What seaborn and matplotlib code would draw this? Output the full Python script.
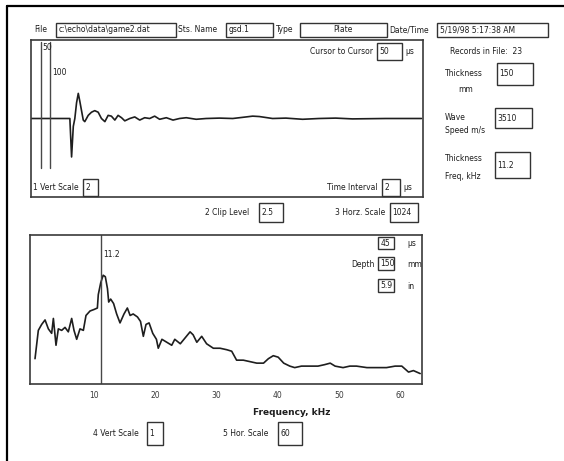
import matplotlib
matplotlib.use("Agg")
import matplotlib.pyplot as plt
from matplotlib.patches import Rectangle
import pandas as pd
import seaborn as sns

# --- time-domain waveform (µs, relative amplitude) ---
time_us = [0, 203, 212, 221, 229, 238, 247, 255, 264, 273, 281, 299, 316, 333,
           351, 368, 386, 403, 420, 438, 455, 473, 490, 516, 542, 568, 594, 620,
           646, 672, 707, 742, 776, 811, 863, 915, 984, 1054, 1124, 1158, 1193,
           1262, 1332, 1419, 1505, 1592, 1679, 1853, 2040]
signal = [0, 0, -0.49, -0.10, 0.0, 0.20, 0.32, 0.22, 0.10, -0.02, -0.04, 0.04,
          0.08, 0.10, 0.08, 0.0, -0.04, 0.04, 0.03, -0.02, 0.04, 0.01, -0.03,
          0.0, 0.02, -0.02, 0.01, 0.0, 0.03, -0.01, 0.01, -0.02, 0.0, 0.01,
          -0.01, 0.0, 0.005, 0.0, 0.02, 0.03, 0.025, 0.0, 0.005, -0.01, 0.0,
          0.005, -0.005, 0.0, 0.0]
cursors_us = [50, 100]
cursor_labels = ["50", "100"]

# --- amplitude spectrum (kHz, relative amplitude) ---
freq_khz = [0.36, 0.9, 1.45, 2.0, 2.54, 3.08, 3.36, 3.79, 4.17, 4.72, 5.26, 5.8,
            6.35, 6.73, 7.17, 7.71, 8.26, 8.69, 9.35, 10.0, 10.55, 10.7, 11.1,
            11.5, 11.85, 12.2, 12.4, 12.72, 13.2, 13.7, 14.25, 14.9, 15.45,
            15.9, 16.4, 17.1, 17.6, 18.06, 18.5, 19.0, 19.6, 20.2, 20.5, 21.1,
            21.9, 22.7, 23.2, 24.1, 24.9, 25.7, 26.2, 26.8, 27.6, 28.4, 29.5,
            30.6, 31.7, 32.5, 33.3, 34.4, 35.5, 36.6, 37.7, 38.5, 39.3, 40.1,
            41.0, 42.0, 42.8, 43.9, 45.3, 46.6, 47.7, 48.6, 49.4, 50.7, 51.8,
            52.9, 54.6, 56.2, 57.8, 59.2, 60.3, 61.4, 62.2, 63.3]
spectrum = [0.17, 0.36, 0.40, 0.43, 0.37, 0.34, 0.44, 0.26, 0.37, 0.36, 0.38,
            0.35, 0.44, 0.36, 0.30, 0.37, 0.36, 0.46, 0.49, 0.50, 0.51, 0.60,
            0.68, 0.73, 0.72, 0.64, 0.55, 0.57, 0.54, 0.47, 0.41, 0.47, 0.51,
            0.46, 0.47, 0.45, 0.42, 0.32, 0.40, 0.41, 0.34, 0.30, 0.24, 0.30,
            0.28, 0.26, 0.30, 0.27, 0.31, 0.35, 0.33, 0.28, 0.32, 0.27, 0.24,
            0.24, 0.23, 0.22, 0.16, 0.16, 0.15, 0.14, 0.14, 0.17, 0.19, 0.18,
            0.14, 0.12, 0.11, 0.12, 0.12, 0.12, 0.13, 0.14, 0.12, 0.11, 0.12,
            0.12, 0.11, 0.11, 0.11, 0.12, 0.12, 0.08, 0.09, 0.07]
freq_ticks = [10, 20, 30, 40, 50, 60]
peak_khz = 11.2

sns.set_style("white")
plt.rcParams["font.family"] = ["Liberation Sans Narrow", "DejaVu Sans"]

W, H = 564, 461
INK = "#1e1e1e"
fig = plt.figure(figsize=(W / 100, H / 100), dpi=100)


def rect(l, t, r, b):
    return [l / W, 1 - b / H, (r - l) / W, (b - t) / H]


def style_axes(ax):
    for s in ax.spines.values():
        s.set_color("#3a3a3a")
        s.set_linewidth(1.2)


# waveform panel
ax_t = fig.add_axes(rect(31, 40, 423, 197))
wave = pd.DataFrame({"t": time_us, "a": signal})
sns.lineplot(data=wave, x="t", y="a", ax=ax_t, color=INK, lw=1.2)
ax_t.set_xlim(0, 2048)
ax_t.set_ylim(-1, 1)
ax_t.set_xticks([])
ax_t.set_yticks([])
ax_t.set_xlabel("")
ax_t.set_ylabel("")
style_axes(ax_t)
for c in cursors_us:
    ax_t.axvline(c, ymin=0.185, ymax=0.99, color="#484848", lw=1.0)
ax_t.annotate(cursor_labels[0], (cursors_us[0], 0.955), xycoords=("data", "axes fraction"),
              xytext=(1.5, 0), textcoords="offset points", fontsize=5.5,
              color=INK, va="center", ha="left")
ax_t.annotate(cursor_labels[1], (cursors_us[1], 0.79), xycoords=("data", "axes fraction"),
              xytext=(1.5, 0), textcoords="offset points", fontsize=5.5,
              color=INK, va="center", ha="left")

# spectrum panel
ax_f = fig.add_axes(rect(30, 235, 422, 384))
spec = pd.DataFrame({"f": freq_khz, "a": spectrum})
sns.lineplot(data=spec, x="f", y="a", ax=ax_f, color=INK, lw=1.2)
ax_f.set_xlim(-0.46, 63.6)
ax_f.set_ylim(0, 1)
ax_f.set_xticks(freq_ticks)
ax_f.set_xticklabels([str(v) for v in freq_ticks], fontsize=5.5, color=INK)
ax_f.set_yticks([])
ax_f.tick_params(axis="x", direction="in", length=5, width=0.9, pad=5, colors="#3a3a3a")
ax_f.set_xlabel("")
ax_f.set_ylabel("")
style_axes(ax_f)
ax_f.axvline(peak_khz, color="#484848", lw=1.0)
ax_f.annotate(f"{peak_khz:.1f}", (peak_khz, 0.866), xycoords=("data", "axes fraction"),
              xytext=(1.5, 0), textcoords="offset points", fontsize=5.5,
              color=INK, va="center", ha="left")

# form controls drawn in pixel coordinates
ov = fig.add_axes([0, 0, 1, 1], zorder=5)
ov.set_xlim(0, W)
ov.set_ylim(H, 0)
ov.axis("off")
ov.patch.set_alpha(0)

ov.plot([7, 7], [6, H], color="black", lw=1.6)
ov.plot([7, W], [6, 6], color="black", lw=1.6)


def label(x, y, s, ha="left", size=5.5, **kw):
    ov.text(x, y, s, ha=ha, va="center", fontsize=size, color=INK, **kw)


def box(x0, y0, x1, y1, s="", size=5.5):
    ov.add_patch(Rectangle((x0, y0), x1 - x0, y1 - y0, fill=False, lw=1.0, ec="#333333"))
    if s:
        label(x0 + 2.5, (y0 + y1) / 2, s, size=size)


# header
label(34, 30, "File")
box(56, 23, 176, 37, "c:\\echo\\data\\game2.dat")
label(178, 30, "Sts. Name")
box(226, 23, 273, 37, "gsd.1")
label(276, 30, "Type")
box(300, 23, 387, 37)
label(343, 30, "Plate", ha="center")
label(389, 30, "Date/Time")
box(437, 23, 548, 37, "5/19/98 5:17:38 AM")

label(373, 52, "Cursor to Cursor", ha="right")
box(377, 43, 402, 60, "50")
label(405, 52, "µs")
label(450, 52, "Records in File:  23")

# right column
label(445, 73, "Thickness")
label(458, 89, "mm")
box(497, 63, 533, 85, "150")
label(445, 117, "Wave")
label(445, 130, "Speed m/s")
box(495, 108, 532, 128, "3510")
label(445, 158, "Thickness")
label(445, 176, "Freq, kHz")
box(495, 152, 530, 178, "11.2")

# waveform controls
label(33, 187, "1 Vert Scale")
box(83, 179, 98, 196, "2")
label(378, 187, "Time Interval", ha="right")
box(382, 179, 400, 196, "2")
label(403, 187, "µs")

label(205, 212, "2 Clip Level")
box(259, 203, 283, 222, "2.5")
label(335, 212, "3 Horz. Scale")
box(390, 203, 418, 222, "1024")

# depth readout
box(378, 237, 394, 249, "45")
label(407, 243, "µs")
label(375, 264, "Depth", ha="right")
box(378, 257, 394, 270, "150")
label(407, 264, "mm")
box(378, 279, 394, 292, "5.9")
label(407, 286, "in")

label(292, 412, "Frequency, kHz", ha="center", size=6.5, fontweight="bold")

label(93, 433, "4 Vert Scale")
box(147, 422, 163, 445, "1")
label(223, 433, "5 Hor. Scale")
box(278, 422, 302, 445, "60")

fig.savefig("out.png", dpi=100)
